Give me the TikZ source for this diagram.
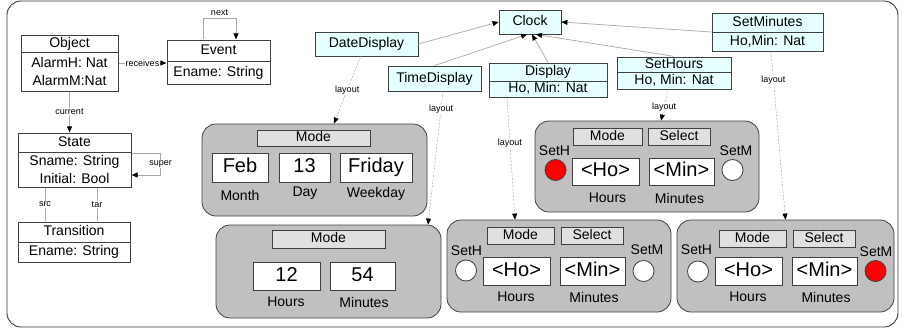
\documentclass[tikz,border=0pt]{standalone}
\usepackage{fontspec}
\setmainfont{Liberation Sans}
\usetikzlibrary{arrows.meta,fit}

\definecolor{edgegray}{HTML}{404040}
\definecolor{framegray}{HTML}{383838}
\definecolor{linegray}{HTML}{A8A8A8}
\definecolor{clsfill}{HTML}{E6FFFF}
\definecolor{panelgray}{HTML}{C0C0C0}
\definecolor{barfill}{HTML}{E0E0E0}
\definecolor{lampred}{HTML}{FF0000}

\tikzset{
  box/.style={draw=edgegray, line width=0.8pt, inner sep=0pt,
    text height=10pt, text depth=3pt, font=\fontsize{14}{18}\selectfont},
  cls/.style={box, fill=clsfill},
  uml/.style={box, fill=white},
  multi/.style={draw=edgegray, line width=0.8pt, inner sep=0pt, fill=white,
    align=center, font=\fontsize{14}{18}\selectfont},
  panel/.style={draw=edgegray, fill=panelgray, rounded corners=14pt,
    line width=0.8pt, inner sep=0pt},
  bar/.style={box, fill=barfill, line width=0.7pt},
  field/.style={draw=edgegray, fill=white, line width=0.8pt, inner sep=0pt,
    text height=14.5pt, text depth=4pt, font=\fontsize{20}{24}\selectfont},
  fieldname/.style={inner sep=0pt, font=\fontsize{14}{16}\selectfont},
  lamp/.style={circle, draw=edgegray, line width=0.8pt, inner sep=0pt,
    minimum size=21pt, fill=white},
  tag/.style={font=\fontsize{9}{10}\selectfont, fill=white, inner sep=1pt},
  headed/.style={-{Triangle[length=6pt,width=5pt,color=black]}},
  assoc/.style={draw=linegray, line width=0.7pt},
  layoutline/.style={draw=linegray, line width=0.5pt,
    dash pattern=on 2pt off 1.5pt, headed},
}

\begin{document}
\begin{tikzpicture}[x=1pt,y=-1pt]
\useasboundingbox (0,0) rectangle (902,330);

% outer frame
\draw[draw=framegray, line width=0.9pt, rounded corners=14pt] (7,1) rectangle (898,327);

% ---------- metamodel (left) ----------
\node[uml, minimum width=97pt, minimum height=17pt] (objT) at (69.5,43.5) {Object};
\node[multi, minimum width=97pt, minimum height=39pt] (objA) at (69.5,71.5) {AlarmH: Nat\\AlarmM:Nat};
\node[fit=(objT)(objA), inner sep=0pt] (obj) {};

\node[uml, minimum width=103pt, minimum height=21pt] (evT) at (218.5,50.5) {Event};
\node[uml, minimum width=103pt, minimum height=23pt] (evA) at (218.5,72.5) {Ename: String};
\node[fit=(evT)(evA), inner sep=0pt] (ev) {};

\node[uml, minimum width=113pt, minimum height=19pt] (stT) at (74.5,142.5) {State};
\node[multi, minimum width=113pt, minimum height=35pt] (stA) at (74.5,169.5) {Sname: String\\Initial: Bool};
\node[fit=(stT)(stA), inner sep=0pt] (st) {};

\node[uml, minimum width=112pt, minimum height=20pt] (trT) at (74,232) {Transition};
\node[uml, minimum width=112pt, minimum height=20pt] (trA) at (74,252) {Ename: String};
\node[fit=(trT)(trA), inner sep=0pt] (tr) {};

\draw[assoc, headed] (obj.east) -- node[tag]{receives} (obj.east -| ev.west);
\draw[assoc, headed] ([xshift=-15.5pt]ev.north) -- ++(0,-21)
  -| node[tag, pos=0.25, above=1pt, fill=none]{next} ([xshift=17.5pt]ev.north);
\draw[assoc, headed] (obj.south) -- node[tag]{current} (obj.south |- st.north);
\draw[assoc, headed] ([yshift=7pt]st.east) -- ++(29,0)
  |- node[tag, pos=0.25]{super} ([yshift=-15pt]st.east);
\draw[assoc] ([xshift=-29.5pt]st.south) -- node[tag]{src} ([xshift=-29.5pt]st.south |- tr.north);
\draw[assoc] ([xshift=22.5pt]st.south) -- node[tag]{tar} ([xshift=22.5pt]st.south |- tr.north);

% ---------- clock classes (top) ----------
\node[cls, minimum width=62pt, minimum height=24pt] (clk) at (530,22) {Clock};
\node[cls, minimum width=103pt, minimum height=24pt] (dd) at (366.5,44) {DateDisplay};
\node[cls, minimum width=93pt, minimum height=25pt] (td) at (434.5,78.5) {TimeDisplay};

\node[cls, minimum width=118pt, minimum height=18pt] (dispT) at (548,72) {Display};
\node[cls, minimum width=118pt, minimum height=16pt] (dispA) at (548,89) {Ho, Min: Nat};
\node[fit=(dispT)(dispA), inner sep=0pt] (disp) {};

\node[cls, minimum width=114pt, minimum height=15pt] (shT) at (674,64.5) {SetHours};
\node[cls, minimum width=114pt, minimum height=17pt] (shA) at (674,80.5) {Ho, Min: Nat};
\node[fit=(shT)(shA), inner sep=0pt] (sh) {};

\node[cls, minimum width=111pt, minimum height=19pt] (smT) at (767.5,22.5) {SetMinutes};
\node[cls, minimum width=111pt, minimum height=19pt] (smA) at (767.5,41.5) {Ho,Min: Nat};
\node[fit=(smT)(smA), inner sep=0pt] (sm) {};

\draw[assoc, headed] (dd.east) -- (clk.west);
\draw[assoc, headed] (td.north) -- ([xshift=-3pt]clk.south);
\draw[assoc, headed] (disp.north) -- ([xshift=2pt]clk.south);
\draw[assoc, headed] (sh.north) -- ([xshift=6pt]clk.south);
\draw[assoc, headed] (sm.west) -- (clk.east);

% ---------- date panel ----------
\node[panel, minimum width=225pt, minimum height=92pt] (pDate) at (314.5,170) {};
\node[bar, minimum width=113pt, minimum height=16pt] (pDate-mode) at (313.5,138) {Mode};
\node[field, minimum width=56pt, minimum height=29pt] (pDate-m) at (240,167.5) {Feb};
\node[field, minimum width=51pt, minimum height=29pt] (pDate-d) at (304.5,167.5) {13};
\node[field, minimum width=72pt, minimum height=29pt] (pDate-w) at (376,167.5) {Friday};
\node[fieldname] (pDate-mc) at (240,195) {Month};
\node[fieldname] (pDate-dc) at (305,193.5) {Day};
\node[fieldname] (pDate-wc) at (376,193.5) {Weekday};

% ---------- time panel ----------
\node[panel, minimum width=225pt, minimum height=93pt] (pTime) at (328.5,271.5) {};
\node[bar, minimum width=113pt, minimum height=18pt] (pTime-mode) at (328.5,239) {Mode};
\node[field, minimum width=67pt, minimum height=28pt] (pTime-h) at (286.5,276) {12};
\node[field, minimum width=65pt, minimum height=28pt] (pTime-m) at (362.5,276) {54};
\node[fieldname] (pTime-hc) at (286,302) {Hours};
\node[fieldname] (pTime-mc) at (364,302) {Minutes};

% ---------- display panel ----------
\node[panel, minimum width=224pt, minimum height=92pt] (pDisp) at (559,266) {};
\node[bar, minimum width=67pt, minimum height=17pt] (pDisp-mode) at (520.5,235.5) {Mode};
\node[bar, minimum width=62pt, minimum height=17pt] (pDisp-sel) at (592,235.5) {Select};
\node[fieldname] (pDisp-shl) at (466.5,251) {SetH};
\node[lamp] (pDisp-sh) at (466,270.5) {};
\node[field, minimum width=67pt, minimum height=28pt] (pDisp-h) at (516.5,271) {<Ho>};
\node[field, minimum width=65pt, minimum height=28pt] (pDisp-m) at (592.5,271) {<Min>};
\node[fieldname] (pDisp-sml) at (647,250) {SetM};
\node[lamp] (pDisp-sm) at (643.5,271) {};
\node[fieldname] (pDisp-hc) at (516,297) {Hours};
\node[fieldname] (pDisp-mc) at (594,297) {Minutes};

% ---------- set-hours panel ----------
\node[panel, minimum width=224pt, minimum height=91pt] (pSH) at (647,166.5) {};
\node[bar, minimum width=69pt, minimum height=17pt] (pSH-mode) at (607.5,136.5) {Mode};
\node[bar, minimum width=62pt, minimum height=17pt] (pSH-sel) at (679,136.5) {Select};
\node[fieldname] (pSH-shl) at (554.5,151) {SetH};
\node[lamp, fill=lampred] (pSH-sh) at (555.5,170) {};
\node[field, minimum width=67pt, minimum height=27pt] (pSH-h) at (605.5,171.5) {<Ho>};
\node[field, minimum width=65pt, minimum height=27pt] (pSH-m) at (681.5,171.5) {<Min>};
\node[fieldname] (pSH-sml) at (736,151) {SetM};
\node[lamp] (pSH-sm) at (732.5,170) {};
\node[fieldname] (pSH-hc) at (607.5,198) {Hours};
\node[fieldname] (pSH-mc) at (679.5,198) {Minutes};

% ---------- set-minutes panel ----------
\node[panel, minimum width=217pt, minimum height=92pt] (pSM) at (785.5,266) {};
\node[bar, minimum width=67pt, minimum height=17pt] (pSM-mode) at (752.5,238.5) {Mode};
\node[bar, minimum width=62pt, minimum height=17pt] (pSM-sel) at (824,238.5) {Select};
\node[fieldname] (pSM-shl) at (696.5,250) {SetH};
\node[lamp] (pSM-sh) at (698,271.5) {};
\node[field, minimum width=67pt, minimum height=28pt] (pSM-h) at (748.5,271) {<Ho>};
\node[field, minimum width=65pt, minimum height=28pt] (pSM-m) at (824.5,271) {<Min>};
\node[fieldname] (pSM-sml) at (876,252) {SetM};
\node[lamp, fill=lampred] (pSM-sm) at (875.5,271) {};
\node[fieldname] (pSM-hc) at (748,297) {Hours};
\node[fieldname] (pSM-mc) at (826,297) {Minutes};

% ---------- layout links ----------
\draw[layoutline] ([xshift=-6pt]dd.south) -- node[tag]{layout} ([xshift=19.5pt]pDate.north);
\draw[layoutline] ([xshift=8.5pt]td.south) -- node[tag, pos=0.13]{layout} ([xshift=99.5pt]pTime.north);
\draw[layoutline] ([xshift=-41pt]disp.south) -- node[tag, pos=0.37]{layout} ([xshift=-44pt]pDisp.north);
\draw[layoutline] ([xshift=-6pt]sh.south) -- node[tag, pos=0.56]{layout} ([xshift=14pt]pSH.north);
\draw[layoutline] ([xshift=3.5pt]sm.south) -- node[tag, pos=0.17]{layout} (pSM.north);
\end{tikzpicture}
\end{document}
